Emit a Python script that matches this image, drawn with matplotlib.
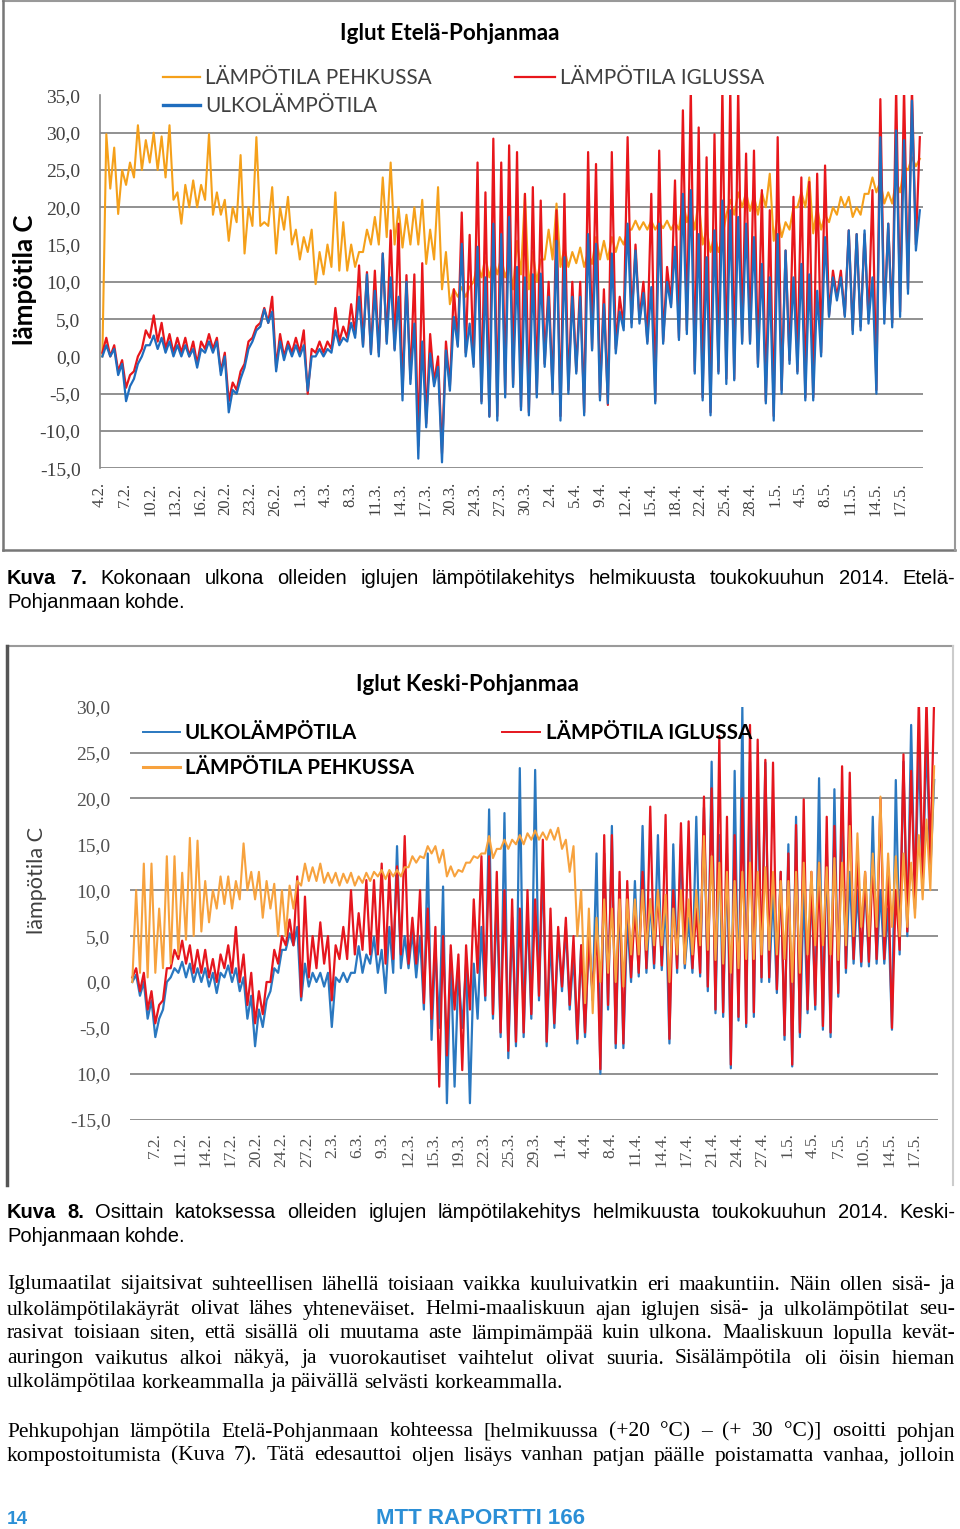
import matplotlib
matplotlib.use("Agg")
import matplotlib.pyplot as plt
from matplotlib import font_manager
from matplotlib.lines import Line2D
import numpy as np

W, H = 960, 1529

# ---------------- Kuva 7: Iglut Etelä-Pohjanmaa (daily night low / day high) -------------
ep_ticks = ["4.2.", "7.2.", "10.2.", "13.2.", "16.2.", "20.2.", "23.2.", "26.2.", "1.3.",
            "4.3.", "8.3.", "11.3.", "14.3.", "17.3.", "20.3.", "24.3.", "27.3.", "30.3.",
            "2.4.", "5.4.", "9.4.", "12.4.", "15.4.", "18.4.", "22.4.", "25.4.", "28.4.",
            "1.5.", "4.5.", "8.5.", "11.5.", "14.5.", "17.5."]

ep_blue_lo = [0.0, 0.0, -2.5, -6.0, -3.0, 0.0, 1.5, 1.0, 0.5, 0.0, 0.0, 0.0, -1.5, 0.5, 0.5, -2.5,
              -7.5, -5.0, -1.5, 2.0, 4.0, 4.5, -2.0, -0.5, 0.0, 0.0, -4.6, 0.0, 0.0, 0.5, 1.5, 2.0,
              2.5, 1.3, 0.3, 0.0, 1.7, 0.8, -5.9, -3.7, -13.7, -9.5, -4.0, -14.2, -4.6, 1.3, 0.0, -1.4,
              -6.3, -8.1, -8.6, -5.5,
              -4.1, -7.2, -7.9, -5.5, -1.4, -5.0, -8.6, -5.0, -2.3, -7.9, 0.8, -5.9, -6.3, 0.4, 3.5,
              3.9, 4.4, 1.7, -6.3, 1.7, 6.6, 2.2, 3.0, -2.3, -5.9, -7.9, -2.3, -3.7, -3.2, 1.7, 1.7,
              -1.4, -6.3, -8.6, -5.0, -1.0, -2.3, -5.9, -5.9, 0.0, 5.3, 7.5, 5.3, 3.0, 3.5, 4.4, -5.0,
              4.4, 3.9, 5.3, 8.4, 14.2]
ep_blue_hi = [1.5, 1.0, -1.0, -4.0, -1.0, 1.5, 2.8, 2.5, 2.0, 1.5, 1.5, 1.0, 1.0, 2.0, 2.0, 0.0,
              -4.5, -3.0, 1.0, 3.5, 6.3, 6.0, 2.0, 1.5, 1.5, 1.5, 0.0, 1.0, 1.0, 3.5, 2.5, 4.5,
              8.0, 11.0, 8.8, 13.8, 10.6, 8.0, 10.0, 4.4, 2.0, 0.4, -1.4, 0.8, 5.3, 15.1, 4.4, 14.7,
              10.6, 17.8, 16.4, 18.7,
              12.0, 10.6, 11.0, 11.1, 8.0, 15.5, 13.3, 8.0, 8.0, 16.4, 15.1, 7.0, 13.8, 6.0, 17.8,
              14.2, 8.5, 9.3, 17.8, 10.0, 14.7, 21.8, 22.3, 16.4, 13.3, 16.9, 20.9, 19.6, 18.7, 17.8,
              16.0, 12.4, 10.6, 16.4, 14.2, 10.6, 12.4, 11.0, 8.8, 16.0, 10.6, 10.6, 16.9, 16.4, 16.9,
              10.6, 29.4, 17.8, 30.3, 29.0, 34.3, 19.6]
ep_red_lo = [0.5, 0.0, -2.0, -4.2, -2.0, 1.0, 2.5, 2.0, 1.0, 0.5, 0.5, 0.0, -1.0, 1.0, 1.0, -2.0,
             -6.0, -4.5, -1.0, 2.5, 4.5, 4.5, -1.5, 0.0, 0.5, 0.5, -5.0, 0.5, 0.5, 1.0, 2.0, 2.5,
             3.0, 1.5, 0.5, 0.5, 2.0, 1.0, -5.0, -3.0, -12.0, -9.0, -3.5, -13.0, -4.0, 1.5, 0.5, -1.0,
             -6.0, -8.0, -8.0, -5.0,
             -3.8, -6.8, -7.5, -5.0, -1.0, -4.5, -8.0, -4.5, -2.0, -7.5, 1.0, -5.5, -6.5, 1.0, 4.0,
             4.5, 5.0, 2.0, -6.0, 2.0, 7.0, 2.5, 3.5, -2.0, -5.5, -7.5, -2.0, -3.0, -3.0, 2.0, 2.0,
             -1.0, -6.0, -8.0, -4.5, -0.5, -2.0, -5.5, -5.5, 0.5, 5.5, 8.0, 5.5, 3.5, 4.0, 5.0, -4.5,
             5.0, 4.5, 6.0, 9.0, 15.0]
ep_red_hi = [2.5, 1.5, -0.5, -2.5, 0.0, 3.5, 5.5, 4.5, 3.0, 2.5, 2.5, 2.0, 2.0, 3.0, 2.5, 0.5,
             -3.5, -2.0, 2.0, 4.0, 6.5, 8.0, 3.0, 2.0, 2.5, 3.5, 1.0, 2.0, 2.0, 6.5, 4.0, 7.0,
             12.2, 11.3, 11.5, 13.8, 16.9, 17.8, 10.9, 11.0, 12.5, 3.0, 0.0, 2.0, 9.0, 19.3, 16.3, 26.0,
             22.0, 29.2, 26.0, 28.3,
             27.4, 21.8, 22.7, 20.9, 10.0, 19.6, 21.8, 10.0, 10.0, 27.4, 25.8, 9.0, 27.4, 8.0, 29.4,
             15.0, 10.0, 21.8, 27.6, 12.0, 23.6, 33.0, 36.0, 30.7, 26.7, 29.8, 36.0, 36.0, 36.0, 27.2,
             27.6, 22.3, 19.6, 29.4, 14.2, 21.4, 24.0, 23.4, 24.5, 25.6, 11.5, 11.5, 16.9, 16.4, 16.4,
             22.3, 34.5, 17.8, 36.0, 36.0, 36.0, 29.4]
ep_orange_lo = [0.0, 22.5, 19.1, 23, 24, 25, 26, 25, 24, 21, 17.8, 20, 20, 21, 19, 19, 15.5, 18,
                13.8, 17.5, 17.5, 17.5, 13.8, 17, 15, 13, 14, 9.7, 11, 12, 11.5, 11.5, 12, 14, 15,
                15, 16, 15, 14.6, 15, 15, 12.4, 13, 9, 7, 8, 8, 10, 10.6, 10.6, 11, 10.6, 9, 11, 9,
                10, 13, 13, 12, 12, 12.5, 12, 12.4, 13, 13, 14, 15, 17, 17, 17, 17, 17.2, 17, 17,
                18, 17, 15, 14, 14, 19, 19, 20, 19.5, 19, 20, 15.5, 16, 17, 20, 20, 16.5, 17, 18,
                19, 20, 18.7, 19, 21.8, 22, 20.5, 20.5, 22, 25, 25.5]
ep_orange_hi = [29.8, 28, 25, 26, 31, 29, 30, 29.5, 31, 22, 23, 23.6, 23, 29.8, 22, 21, 20, 27,
                20, 29.4, 18, 22.7, 20, 21.4, 17, 16, 17, 14, 15, 22, 18, 15, 14, 17, 18.7, 24,
                26, 20, 19, 20, 21, 17, 22.7, 14, 9, 9.3, 9.3, 12.4, 13.3, 13, 13.3, 12.5, 15.5,
                21.8, 14, 13, 17, 20.5, 14.6, 14, 14.6, 14, 16, 15.5, 16, 16, 17, 18.2, 18, 18.2,
                18, 18.2, 18, 21, 20, 21, 17, 16.4, 16, 21, 22, 22, 21.5, 22, 24.5, 19, 18, 20, 22,
                24, 20, 19, 20, 21.4, 21.4, 20, 21.8, 24, 23.5, 22, 23.6, 25.4, 26.7, 26.5]

# ---------------- Kuva 8: Iglut Keski-Pohjanmaa -------------------------------------------
kp_ticks = ["7.2.", "11.2.", "14.2.", "17.2.", "20.2.", "24.2.", "27.2.", "2.3.", "6.3.", "9.3.",
            "12.3.", "15.3.", "19.3.", "22.3.", "25.3.", "29.3.", "1.4.", "4.4.", "8.4.", "11.4.",
            "14.4.", "17.4.", "21.4.", "24.4.", "27.4.", "1.5.", "4.5.", "7.5.", "10.5.", "14.5.",
            "17.5."]

kp_blue_lo = [0.0, -1.5, -4.0, -6.0, -3.0, 0.5, 1.0, 0.5, 0.0, 0.0, -0.5, -1.2, 0.5, 0.0, -1.0,
              -4.0, -7.0, -4.9, -1.0, 1.0, 3.5, 4.0, -2.0, -0.5, 0.0, -0.5, -4.9, 0.0, 0.0, 1.0, 1.0,
              2.0, 1.0, -1.2, 1.0, 1.5, 1.5, 0.5, -3.0, -6.3, -5.0, -13.2, -11.4, -5.0, -13.2, -4.0,
              -2, -4, -6, -8.3, -7, -6, -4, -2, -7, -5, -1, -3, -6.7, -6, -2, -10, -3, -7.2, -7.2, 0,
              0.6, 1, 1.5, 1.3, -6.7, 1, 1.5, 1, 0.6, -1, -3.4, -3.8, -9.4, -4.2, -4.9, -3.8, 0, 0,
              -1.2, -6.3, -9.2, -6, -3.4, -3, -5.2, -6, -1.6, 1, 2, 1.7, 1.7, 2, 2, -5.2, 3, 5, 8,
              10, 12]
kp_blue_hi = [0.8, 0.0, -2.0, -4.0, 0.0, 1.5, 2.2, 2.0, 1.5, 1.5, 1.0, 1.0, 1.8, 1.5, 0.5, -1.5,
              -3.0, -2.0, 1.5, 3.5, 5.3, 6.0, 2.0, 1.0, 1.0, 1.0, 0.5, 1.0, 1.0, 3.9, 3.0, 4.9, 3.5,
              6.0, 14.8, 5.0, 5.5, 5.0, 14.0, 4.0, 10.4, 3.0, 1.0, 2.0, 2.0, 6.0,
              18.8, 9, 18.4, 7, 23.3, 8, 23.1, 13, 5, 5, 6, 3, 4, 5, 14, 14, 17, 10, 7, 11, 17, 9,
              16, 9, 15, 15, 7, 18, 19, 24, 16, 14, 23, 30, 24, 22, 23.9, 10, 12, 15, 18, 10, 11,
              22.2, 15, 21, 20, 12, 10, 11, 18, 10, 8, 22, 24, 28, 26, 27, 22]
kp_red_lo = [0.5, -1.0, -3.0, -4.5, -2.0, 1.5, 2.5, 2.0, 1.0, 1.0, 0.5, 0.0, 1.5, 1.0, 0.0, -2.5,
             -4.5, -3.5, 0.0, 2.0, 4.0, 4.0, -1.6, 0.5, 1.5, 2.0, -2.0, 2.5, 2.5, 3.0, 3.5, 3.0, 3.0,
             2.0, 2.5, 3.0, 2.0, 2.0, -2.3, -4.0, -11.4, -8.0, -3.0, -9.6, -3.0, 1.0,
             -1.5, -3.5, -5.5, -7.5, -6.5, -5.5, -3.5, -1.5, -6.5, -4.5, -0.5, -2.5, -6.2, -5.5,
             -1.5, -9.5, -2.5, -6.7, -6.7, 0.5, 1.0, 1.5, 2.0, 1.8, -6.2, 1.5, 2.0, 1.5, 1.0, -0.5,
             -3.0, -3.3, -9.0, -3.8, -4.5, -3.3, 0.5, 0.5, -0.8, -5.8, -9.0, -5.5, -3.0, -2.5, -4.8,
             -5.5, -1.2, 1.5, 2.5, 2.2, 2.2, 2.5, 2.5, -5.0, 3.5, 5.5, 9.0, 11.0, 13.0]
kp_red_hi = [1.5, 1.0, -1.0, -2.5, 1.5, 3.5, 4.5, 4.0, 3.5, 3.5, 2.5, 3.0, 4.0, 6.0, 3.0, 1.0,
             -1.0, 0.0, 3.5, 5.0, 6.8, 11.5, 9.3, 5.0, 6.5, 5.0, 4.0, 6.0, 10.0, 7.5, 11.1, 11.1,
             12.9, 11.9, 12.6, 15.9, 7.0, 10.0, 8.0, 6.0, 5.0, 4.0, 3.0, 4.0, 9.0, 13.7,
             13.7, 12, 10, 9, 8, 10, 9, 15.5, 8, 6, 7, 5, 4, 5, 6, 16, 16, 12, 11, 8, 12, 19.1, 10,
             18.2, 10, 17.3, 17.5, 8, 20.2, 21.1, 26.8, 18, 16, 20, 28, 26.4, 24.2, 23.9, 12, 14,
             17.1, 19.9, 12, 13, 18, 17, 23.5, 22.8, 14, 12, 13, 20, 12, 10, 24.8, 23, 31, 31, 31]
kp_orange_lo = [0, 1, 0.5, 1, 1.5, 2, 3, 4.6, 5, 5.5, 6.5, 8, 8.5, 8, 9, 10, 9, 7, 8, 5, 5, 8,
                10.5, 11, 11, 10.8, 10.8, 10.5, 10.8, 10.5, 10.8, 11, 11.5, 11.2, 11.5, 11.5, 12.5,
                13, 13.5, 14, 13, 11.5, 11.5, 12, 13, 13.5,
                14, 13.5, 14.5, 14.5, 15, 15, 15.5, 15.5, 15.5, 15.5, 14.5, 12, 5,
                -2.3, -3.4, 0, 1, 0, -0.5, 3, 3, 3.5, 4, 4, 0, 3, 2, 3, 4, 3.5, 2.4, 2, 1, 1.5, 2.5,
                2.5, 3, 3.5, 3, 2.5, 0, 1, 3, 4, 4, 3, 2.4, 4, 5, 6, 5, 6, 5, 6, 5, 6, 7, 9, 10]
kp_orange_hi = [10, 12.9, 12.9, 8, 13.7, 13.7, 11.9, 15.7, 15.4, 11, 10, 11.5, 11.5, 11, 15.1,
                12, 12, 11, 10.7, 10, 10.5, 11, 12.9, 12.5, 12.9, 11.9, 11.9, 11.8, 11.9, 11.5,
                11.9, 12, 12.2, 12.2, 12.2, 12.5, 13.7, 13.7, 14.8, 14.8, 14.4, 12.6, 12.2, 13,
                13.7, 14.0,
                15.9, 14.5, 15.5, 15.5, 16, 16.2, 16.5, 16.3, 16.6, 16.8, 15.5, 14.8, 10,
                8, 7, 9, 8, 9, 9, 9, 10, 9, 10, 9.5, 8, 10, 9, 10, 15.9, 13.7, 13, 12, 11, 12, 13,
                12, 12.5, 12, 11, 11, 12, 13, 12, 13, 12.5, 13.5, 13, 17, 16.2, 12, 14, 20.2, 14,
                13.7, 14, 13, 16, 17.7, 23.5]

ORANGE1, RED1, BLUE1 = "#F5A01A", "#E8161B", "#1F6DBE"
ORANGE2, RED2, BLUE2 = "#F7A23E", "#E5161E", "#2A78C0"
GRID = "#888888"
TICK_C = "#404040"

installed = {f.name for f in font_manager.fontManager.ttflist}
sans = "Liberation Sans Narrow" if "Liberation Sans Narrow" in installed else "Liberation Sans"
serif = "Liberation Serif"

fig = plt.figure(figsize=(W / 100, H / 100), dpi=100)
renderer = fig.canvas.get_renderer()


def fx(px):
    return px / W


def fy(py):
    return 1 - py / H


def fitted(x, y, s, size_px, dim="w", **kw):
    t = fig.text(fx(x), fy(y), s, va="center", **kw)
    bb = t.get_window_extent(renderer)
    cur = bb.width if dim == "w" else bb.height
    t.set_fontsize(t.get_fontsize() * size_px / cur)
    return t


def zigzag(lo, hi):
    n = min(len(lo), len(hi))
    d = np.arange(n)
    x = np.empty(2 * n)
    y = np.empty(2 * n)
    x[0::2], x[1::2] = d + 0.3, d + 0.8
    y[0::2], y[1::2] = lo[:n], hi[:n]
    return x, y


def hline(x0, x1, y, color, lw):
    fig.add_artist(Line2D([fx(x0), fx(x1)], [fy(y), fy(y)], color=color, lw=lw,
                          transform=fig.transFigure))


def vline(x, y0, y1, color, lw):
    fig.add_artist(Line2D([fx(x), fx(x)], [fy(y0), fy(y1)], color=color, lw=lw,
                          transform=fig.transFigure))


# ---------------- chart 1 ----------------
hline(3, 955, 1, "#999999", 1.5)
hline(3, 955, 550, "#777777", 1.8)
vline(3, 1, 550, "#777777", 1.8)
vline(955, 1, 550, "#999999", 1.5)

ax1 = fig.add_axes([fx(100), fy(468.3), (923 - 100) / W, (468.3 - 95.4) / H])
ax1.set_xlim(0, 104.2)
ax1.set_ylim(-15, 35)
for sp in ("top", "right", "bottom"):
    ax1.spines[sp].set_visible(False)
ax1.spines["left"].set_color(GRID)
ax1.spines["left"].set_linewidth(1.2)
for v in (30, 25, 20, 10, 5, -5, -10, -15):
    ax1.axhline(v, color=GRID, lw=1.3, zorder=0)

ax1.plot(*zigzag(ep_orange_lo, ep_orange_hi), color=ORANGE1, lw=1.5)
ax1.plot(*zigzag(ep_red_lo, ep_red_hi), color=RED1, lw=1.6)
ax1.plot(*zigzag(ep_blue_lo, ep_blue_hi), color=BLUE1, lw=1.6)

ax1.set_xticks([i * 3.168 for i in range(len(ep_ticks))], ep_ticks, rotation=90,
               fontsize=12, family=serif, color=TICK_C)
ax1.set_yticks(range(35, -16, -5), [f"{v},0" for v in range(35, -16, -5)],
               fontsize=14, family=serif, color=TICK_C)
ax1.tick_params(axis="x", length=0, pad=10)
ax1.tick_params(axis="y", length=0, pad=14)

fitted(449.5, 33, "Iglut Etelä-Pohjanmaa", 223, ha="center", family="Lato",
       fontweight="bold", fontsize=14, color="black")
fitted(25, 280, "lämpötila C", 130, dim="h", ha="center", rotation=90, family="Lato",
       fontweight="bold", fontsize=16, color="black")
hline(163, 200, 77, ORANGE1, 1.6)
hline(163, 200, 105, BLUE1, 2.4)
hline(515, 555, 77, RED1, 1.6)
fitted(205, 78, "LÄMPÖTILA PEHKUSSA", 227, ha="left", family="Lato", fontsize=14, color=TICK_C)
fitted(205, 106, "ULKOLÄMPÖTILA", 172, ha="left", family="Lato", fontsize=14, color=TICK_C)
fitted(560, 78, "LÄMPÖTILA IGLUSSA", 205, ha="left", family="Lato", fontsize=14, color=TICK_C)

# ---------------- chart 2 ----------------
hline(7, 953, 646, "#9a9a9a", 1.5)
vline(7, 646, 1185, "#555555", 2.5)
vline(953, 646, 1185, "#cccccc", 1.5)

ax2 = fig.add_axes([fx(130), fy(1119.7), (938 - 130) / W, (1119.7 - 706.6) / H])
ax2.set_xlim(0, 105.3)
ax2.set_ylim(-15, 30)
for sp in ax2.spines.values():
    sp.set_visible(False)
for v in (25, 20, 10, 5, -10, -15):
    ax2.axhline(v, color=GRID, lw=1.3, zorder=0)

ax2.plot(*zigzag(kp_blue_lo, kp_blue_hi), color=BLUE2, lw=1.6)
ax2.plot(*zigzag(kp_red_lo, kp_red_hi), color=RED2, lw=1.6)
ax2.plot(*zigzag(kp_orange_lo, kp_orange_hi), color=ORANGE2, lw=1.5)

ax2.set_xticks([(25 + 25.3 * i) / 7.67 for i in range(len(kp_ticks))], kp_ticks, rotation=90,
               fontsize=12.5, family=serif, color="#505050")
kp_ylabels = ["30,0", "25,0", "20,0", "15,0", "10,0", "5,0", "0,0", "-5,0", "10,0", "-15,0"]
ax2.set_yticks(range(30, -16, -5), kp_ylabels, fontsize=14, family=serif, color="#505050")
ax2.tick_params(axis="x", length=0, pad=9)
ax2.tick_params(axis="y", length=0, pad=14)

fitted(467.5, 685, "Iglut Keski-Pohjanmaa", 225, ha="center", family="Lato",
       fontweight="bold", fontsize=14, color="black")
fitted(37, 881, "lämpötila C", 107, dim="h", ha="center", rotation=90, family="Lato",
       fontsize=13, color=TICK_C)
hline(143, 180, 732, BLUE2, 1.4)
hline(143, 180, 767, ORANGE2, 2.2)
hline(502, 540, 732, RED2, 1.4)
fitted(185, 733, "ULKOLÄMPÖTILA", 173, ha="left", family="Lato", fontweight="bold",
       fontsize=14, color="black")
fitted(185, 768, "LÄMPÖTILA PEHKUSSA", 230, ha="left", family="Lato", fontweight="bold",
       fontsize=14, color="black")
fitted(546, 733, "LÄMPÖTILA IGLUSSA", 207, ha="left", family="Lato", fontweight="bold",
       fontsize=14, color="black")


# ---------------- page text ----------------
def line_words(words, y, size, family, weights=None, stretch=True, x0=7, x1=955):
    ts = []
    for i, w in enumerate(words):
        wt = weights[i] if weights else "normal"
        ts.append(fig.text(0, fy(y), w, fontsize=size, family=family, fontweight=wt,
                           va="center", ha="left", color="black"))
    widths = [t.get_window_extent(renderer).width for t in ts]
    gap = (x1 - x0 - sum(widths)) / (len(ts) - 1) if stretch else size * 100 / 72 * 0.25
    x = x0
    for t, w in zip(ts, widths):
        t.set_x(fx(x))
        x += w + gap


def best_size(lines, family, cap, min_gap=0.3):
    sizes = [cap]
    for words in lines:
        tot = 0
        for w in words:
            t = fig.text(0, 0, w, fontsize=10, family=family)
            tot += t.get_window_extent(renderer).width
            t.remove()
        sizes.append(948 / (tot / 10 + min_gap * 100 / 72 * (len(words) - 1)))
    return min(sizes)


cap1 = "Kuva 7. Kokonaan ulkona olleiden iglujen lämpötilakehitys helmikuusta toukokuuhun 2014. Etelä-"
cap2 = "Kuva 8. Osittain katoksessa olleiden iglujen lämpötilakehitys helmikuusta toukokuuhun 2014. Keski-"
par1 = ["Iglumaatilat sijaitsivat suhteellisen lähellä toisiaan vaikka kuuluivatkin eri maakuntiin. Näin ollen sisä- ja",
        "ulkolämpötilakäyrät olivat lähes yhteneväiset. Helmi-maaliskuun ajan iglujen sisä- ja ulkolämpötilat seu-",
        "rasivat toisiaan siten, että sisällä oli muutama aste lämpimämpää kuin ulkona. Maaliskuun lopulla kevät-",
        "auringon vaikutus alkoi näkyä, ja vuorokautiset vaihtelut olivat suuria. Sisälämpötila oli öisin hieman",
        "ulkolämpötilaa korkeammalla ja päivällä selvästi korkeammalla."]
par2 = ["Pehkupohjan lämpötila Etelä-Pohjanmaan kohteessa [helmikuussa (+20 °C) – (+ 30 °C)] osoitti pohjan",
        "kompostoitumista (Kuva 7). Tätä edesauttoi oljen lisäys vanhan patjan päälle poistamatta vanhaa, jolloin"]

cs = best_size([cap1.split(), cap2.split()], sans, 14.5, min_gap=0.45)
for cap, y in ((cap1, 578), (cap2, 1212)):
    words = cap.split()
    line_words(words, y, cs, sans, weights=["bold", "bold"] + ["normal"] * (len(words) - 2))
    line_words(["Pohjanmaan", "kohde."], y + 25, cs, sans, stretch=False)

ps = best_size([l.split() for l in par1[:4] + par2], serif, 15.5, min_gap=0.25)
for i, (l, y) in enumerate(zip(par1, (1285, 1310, 1334, 1359, 1383))):
    line_words(l.split(), y, ps, serif, stretch=(i < 4))
for l, y in zip(par2, (1432, 1456)):
    line_words(l.split(), y, ps, serif)

FOOT = "#2b8fd6"
fitted(7, 1520, "14", 21, ha="left", family="Liberation Sans", fontweight="bold", fontsize=13,
       color=FOOT)
fitted(376, 1519, "MTT RAPORTTI 166", 210, ha="left", family="Liberation Sans",
       fontweight="bold", fontsize=13, color=FOOT)

fig.savefig("out.png", dpi=100)
